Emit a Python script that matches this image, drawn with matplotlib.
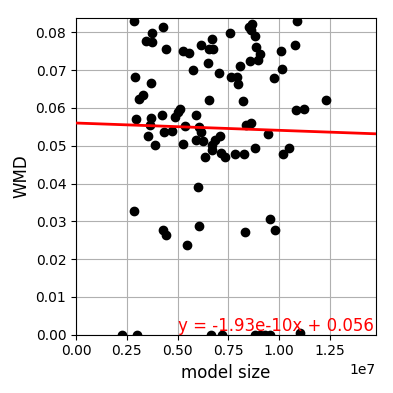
import numpy as np
import matplotlib
matplotlib.use("Agg")
import matplotlib.pyplot as plt

# model size (parameters) vs WMD
model_size = [
    2.86e6, 4.30e6, 3.73e6, 3.45e6, 3.73e6, 4.43e6, 5.26e6, 5.58e6, 6.16e6, 6.68e6,
    6.57e6, 6.76e6, 7.59e6, 6.52e6, 5.76e6, 7.04e6, 7.64e6, 2.92e6, 3.71e6, 3.32e6,
    3.12e6, 6.57e6, 5.14e6, 5.01e6, 4.88e6, 2.96e6, 3.69e6, 3.66e6, 4.25e6, 5.93e6,
    5.39e6, 6.06e6, 6.16e6, 4.33e6, 4.71e6, 3.56e6, 3.89e6, 5.29e6, 5.91e6, 6.24e6,
    7.09e6, 6.85e6, 6.72e6, 6.68e6, 6.35e6, 7.14e6, 7.34e6, 7.83e6,
    8.65e6, 8.52e6, 8.62e6, 8.82e6, 10.9e6, 8.87e6, 9.06e6, 8.98e6, 8.57e6, 8.08e6,
    10.11e6, 10.79e6, 10.16e6, 9.75e6, 7.93e6, 8.00e6, 8.24e6, 12.33e6, 10.84e6, 11.23e6,
    8.36e6, 8.62e6, 9.46e6, 8.82e6, 10.51e6, 10.21e6, 8.29e6,
    2.87e6, 4.30e6, 4.43e6, 5.48e6, 6.03e6, 6.07e6, 9.57e6, 9.82e6, 8.34e6,
    2.25e6, 3.02e6, 6.65e6, 7.18e6, 8.82e6, 9.06e6, 9.31e6, 9.56e6, 11.03e6,
]
wmd = [
    0.0829, 0.0813, 0.0799, 0.0778, 0.0774, 0.0755, 0.0750, 0.0746, 0.0766, 0.0783,
    0.0757, 0.0757, 0.0797, 0.0718, 0.0701, 0.0693, 0.0682, 0.0682, 0.0665, 0.0633,
    0.0624, 0.0620, 0.0596, 0.0589, 0.0577, 0.0571, 0.0574, 0.0554, 0.0580, 0.0582,
    0.0551, 0.0549, 0.0536, 0.0537, 0.0540, 0.0525, 0.0501, 0.0505, 0.0516, 0.0512,
    0.0525, 0.0514, 0.0501, 0.0489, 0.0470, 0.0480, 0.0470, 0.0477,
    0.0821, 0.0814, 0.0807, 0.0790, 0.0831, 0.0760, 0.0743, 0.0728, 0.0725, 0.0710,
    0.0750, 0.0766, 0.0703, 0.0680, 0.0683, 0.0664, 0.0617, 0.0620, 0.0595, 0.0597,
    0.0555, 0.0560, 0.0530, 0.0493, 0.0493, 0.0477, 0.0477,
    0.0328, 0.0276, 0.0265, 0.0238, 0.0392, 0.0288, 0.0307, 0.0276, 0.0273,
    0.0, 0.0, 0.0, 0.0, 0.0, 0.0, 0.0, 0.0, 0.0005,
]

# linear fit shown on the chart
slope = -1.93e-10
intercept = 0.056

x_max = 1.475e7

fig = plt.figure(figsize=(3.93, 3.93), dpi=100)
ax = fig.add_axes([0.1934, 0.1483, 0.7621, 0.8051])

ax.scatter(model_size, wmd, color="black", s=36, zorder=3)

xs = np.array([0, x_max])
ax.plot(xs, slope * xs + intercept, color="red", linewidth=2, zorder=4)

ax.text(5e6, 0, f"y = {slope:.2e}x + {intercept:.3f}",
        color="red", fontsize=12, va="bottom", ha="left")

ax.set_xlim(0, x_max)
ax.set_ylim(0, 0.0837)
ax.set_xlabel("model size", fontsize=12)
ax.set_ylabel("WMD", fontsize=12)
ax.grid(True)
ax.set_axisbelow(True)

fig.savefig("out.png", dpi=100)
